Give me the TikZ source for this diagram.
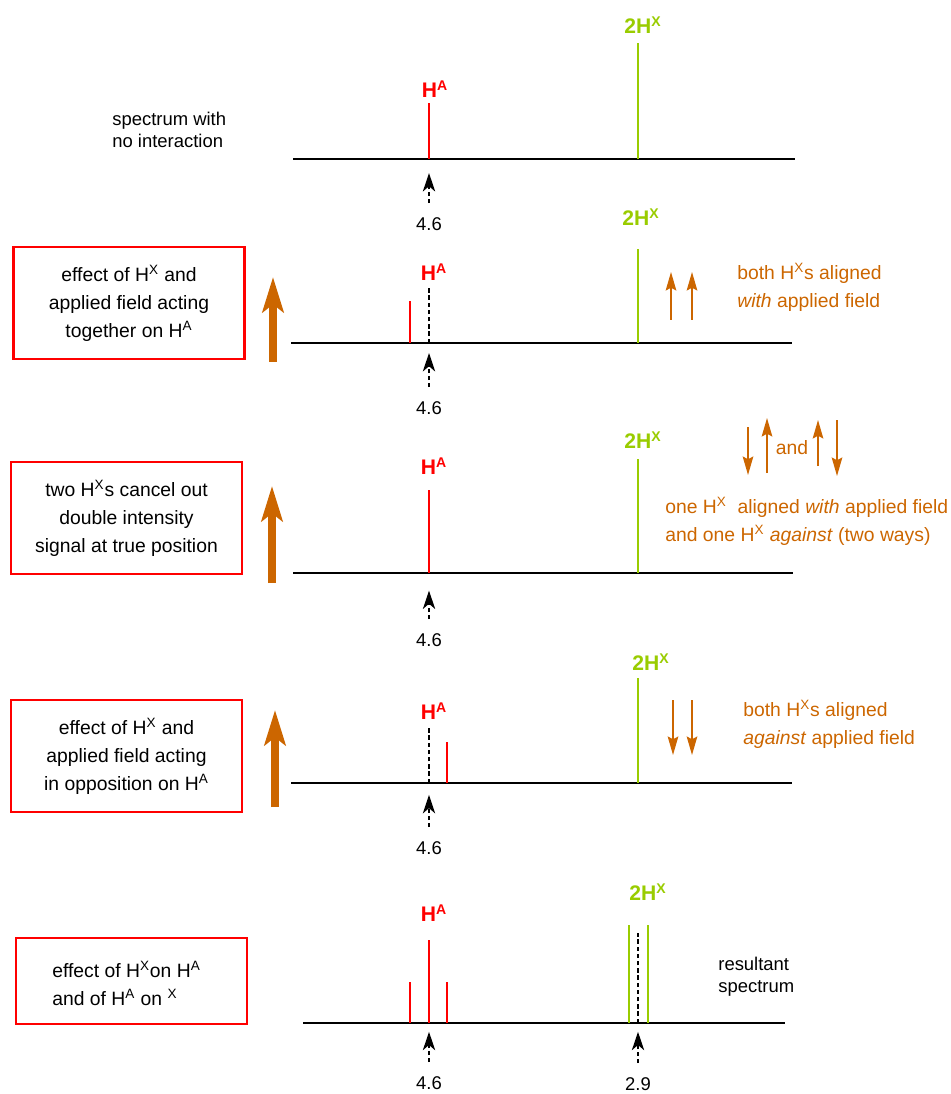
\documentclass[tikz,border=0pt]{standalone}
\usepackage{fontspec}
\setmainfont{Liberation Sans}
\usetikzlibrary{positioning,arrows.meta}
\definecolor{hred}{RGB}{255,0,0}
\definecolor{hgreen}{RGB}{153,204,0}
\definecolor{spin}{RGB}{204,102,0}

\begin{document}
\begin{tikzpicture}[x=0.02cm,y=-0.02cm,
    every node/.style={inner sep=0pt},
    txt/.style={font=\fontsize{10.5}{12.5}\selectfont,align=left},
    boxtxt/.style={font=\fontsize{11}{16}\selectfont,align=center},
    spintxt/.style={spin,font=\fontsize{11}{16}\selectfont,align=left,anchor=west},
    peaklab/.style={font=\bfseries\fontsize{12}{14}\selectfont},
    notebox/.style={draw=hred,line width=1.2pt,minimum width=4.62cm,minimum height=2.24cm},
    axisline/.style={line width=1.3pt},
    pA/.style={hred,line width=1.1pt},
    pX/.style={hgreen,line width=1.2pt},
    truepos/.style={line width=1pt,dash pattern=on 2.5pt off 1.6pt},
    posarrow/.style={line width=0.9pt,dash pattern=on 2.5pt off 1.5pt,shorten <=8pt,
      -{Stealth[length=10.5pt,width=7pt,inset=3pt]}},
    field/.style={spin,line width=4pt,-{Stealth[length=20pt,width=12pt,inset=4.5pt]}},
    spinarrow/.style={spin,line width=0.9pt,-{Stealth[length=10.5pt,width=6pt,inset=1.5pt]}}]
    \useasboundingbox (0,0) rectangle (950,1094);

    \draw[axisline] (293,159) -- (795,159);
    \coordinate (m1) at (429,159);
    \draw[pA] (m1) -- (429,103);
    \draw[pX] (638,159) -- (638,43);
    \node[peaklab,hred] (ha1) at (435,89) {H\textsuperscript{A}};
    \node[peaklab,hgreen] (hx1) at (643,25) {2H\textsuperscript{X}};
    \node[txt] (v1) at (429,224) {4.6};
    \draw[posarrow,shorten >=8pt] (v1) -- (m1);
    \node[txt,anchor=west] (t1) at (112,130) {spectrum with\\no interaction};

    \draw[axisline] (291,343) -- (792,343);
    \coordinate (m2) at (429,343);
    \draw[pA] (410,343) -- (410,301);
    \draw[truepos] (m2) -- (429,287);
    \draw[pX] (638,343) -- (638,249);
    \node[peaklab,hred] (ha2) at (434,272) {H\textsuperscript{A}};
    \node[peaklab,hgreen] (hx2) at (641,217) {2H\textsuperscript{X}};
    \node[txt] (v2) at (429,408) {4.6};
    \draw[posarrow,shorten >=5.7pt] (v2) -- (m2);
    \node[notebox,boxtxt] (b2) at (129,303) {effect of H\textsuperscript{X} and\\applied field acting\\together on H\textsuperscript{A}};
    \draw[field] (273,362) -- (273,277);
    \draw[spinarrow] (671,320) -- (671,272);
    \draw[spinarrow] (692,320) -- (692,272);
    \node[spintxt] (o2) at (737,287) {both H\textsuperscript{X}s aligned\\\textit{with} applied field};

    \draw[axisline] (293,573) -- (793,573);
    \coordinate (m3) at (429,573);
    \draw[pA] (m3) -- (429,532);
    \draw[pA] (429,532) -- (429,490);
    \draw[pX] (638,573) -- (638,459);
    \node[peaklab,hred] (ha3) at (434,466) {H\textsuperscript{A}};
    \node[peaklab,hgreen] (hx3) at (643,440) {2H\textsuperscript{X}};
    \node[txt] (v3) at (429,640) {4.6};
    \draw[posarrow,shorten >=10pt] (v3) -- (m3);
    \node[notebox,boxtxt] (b3) at (126.5,518) {two H\textsuperscript{X}s cancel out\\double intensity\\signal at true position};
    \draw[field] (272,583) -- (272,486);
    \draw[spinarrow] (748,427) -- (748,475);
    \draw[spinarrow] (767,473) -- (767,418);
    \node[spintxt,anchor=center] (and3) at (792,448) {and};
    \draw[spinarrow] (818,466) -- (818,420);
    \draw[spinarrow] (837,420) -- (837,476);
    \node[spintxt] (o3) at (665,521) {one H\textsuperscript{X}\ \ aligned \textit{with} applied field\\and one H\textsuperscript{X} \textit{against} (two ways)};

    \draw[axisline] (291,783) -- (792,783);
    \coordinate (m4) at (429,783);
    \draw[truepos] (m4) -- (429,727);
    \draw[pA] (447,783) -- (447,742);
    \draw[pX] (638,783) -- (638,678);
    \node[peaklab,hred] (ha4) at (434,711) {H\textsuperscript{A}};
    \node[peaklab,hgreen] (hx4) at (651,662) {2H\textsuperscript{X}};
    \node[txt] (v4) at (429,848) {4.6};
    \draw[posarrow,shorten >=6.8pt] (v4) -- (m4);
    \node[notebox,boxtxt] (b4) at (126.5,756) {effect of H\textsuperscript{X} and\\applied field acting\\in opposition on H\textsuperscript{A}};
    \draw[field] (275,807) -- (275,710);
    \draw[spinarrow] (673,700) -- (673,755);
    \draw[spinarrow] (692,700) -- (692,755);
    \node[spintxt] (o4) at (743,724) {both H\textsuperscript{X}s aligned\\\textit{against} applied field};

    \draw[axisline] (303,1023) -- (785,1023);
    \coordinate (m5) at (429,1023);
    \coordinate (n5) at (638,1023);
    \draw[pA] (410,1023) -- (410,982);
    \draw[pA] (m5) -- (429,982);
    \draw[pA] (429,982) -- (429,940);
    \draw[pA] (447,1023) -- (447,982);
    \draw[pX] (629,1023) -- (629,925);
    \draw[pX] (648,1023) -- (648,925);
    \draw[truepos] (n5) -- (638,933);
    \node[peaklab,hred] (ha5) at (434,913) {H\textsuperscript{A}};
    \node[peaklab,hgreen] (hx5) at (648,892) {2H\textsuperscript{X}};
    \node[txt] (v5) at (429,1083) {4.6};
    \node[txt] (w5) at (638,1084) {2.9};
    \draw[posarrow,shorten >=5pt] (v5) -- (m5);
    \draw[posarrow,shorten >=5pt] (w5) -- (n5);
    \node[notebox,minimum height=1.72cm] (b5) at (131.5,981) {};
    \node[boxtxt,align=left,anchor=west] (t5) at (52,983) {effect of H\textsuperscript{X}on H\textsuperscript{A}\\and of H\textsuperscript{A} on \textsuperscript{X}};
    \node[txt,anchor=west] (r5) at (718,977) {resultant\\spectrum};
\end{tikzpicture}
\end{document}
